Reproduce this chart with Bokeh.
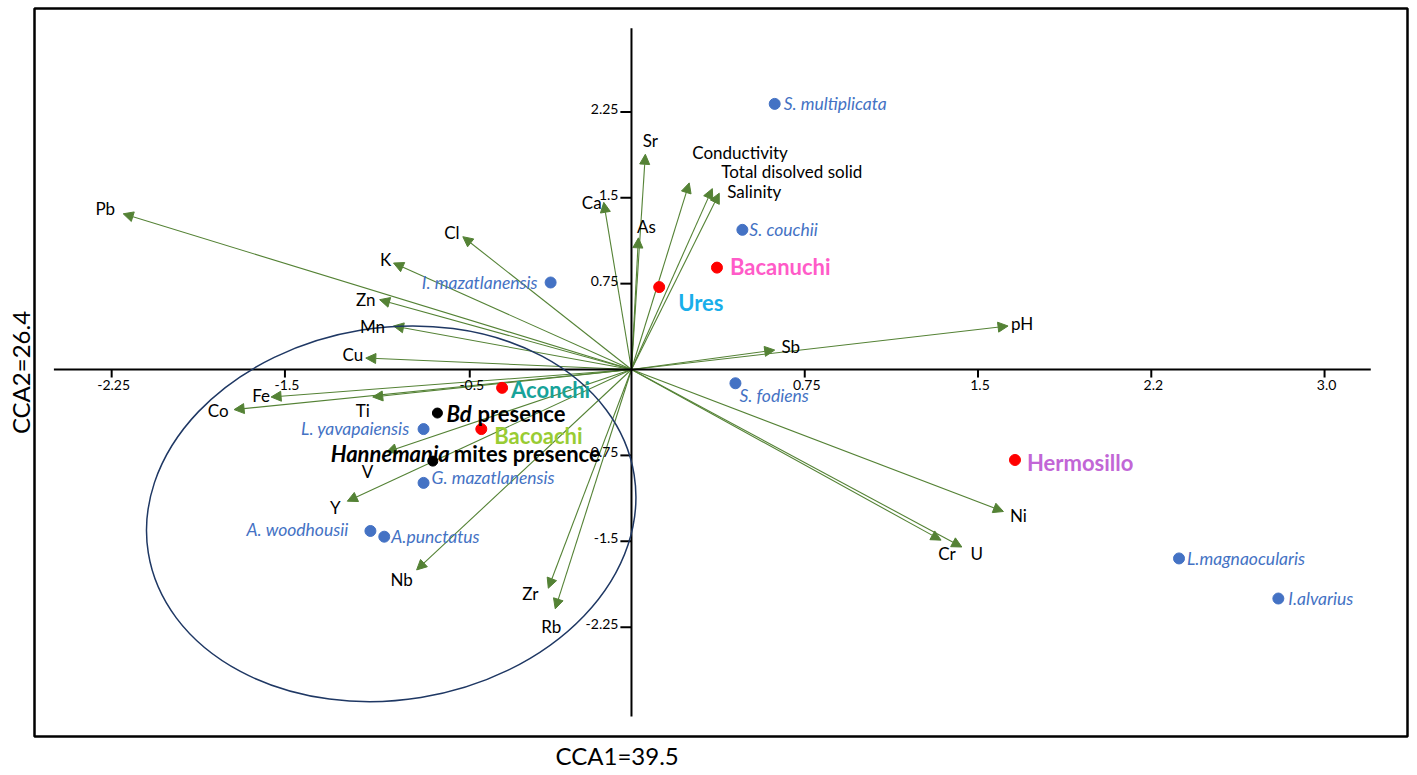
from bokeh.plotting import figure
from bokeh.models import ColumnDataSource, Arrow, NormalHead, Title, Range1d
from bokeh.embed import file_html
from bokeh.resources import INLINE
from bokeh.core.properties import value

# ---------------- data ----------------
# environmental vectors (biplot scores: CCA1, CCA2)
var_names = ["Pb", "Cl", "K", "Zn", "Mn", "Cu", "Fe", "Co", "Ti", "V", "Y", "Nb", "Zr", "Rb",
             "Ca", "As", "Sr", "Conductivity", "Total disolved solid", "Salinity", "Sb", "pH",
             "Ni", "Cr", "U"]
var_cca1 = [-2.20, -0.73, -1.03, -1.09, -1.03, -1.15, -1.56, -1.72, -1.12, -1.06, -1.23, -0.93,
            -0.36, -0.33, -0.12, 0.03, 0.06, 0.25, 0.35, 0.38, 0.62, 1.63, 1.61, 1.34, 1.43]
var_cca2 = [1.36, 1.16, 0.93, 0.61, 0.38, 0.10, -0.24, -0.35, -0.24, -0.72, -1.15, -1.75,
            -1.91, -2.09, 1.46, 1.15, 1.88, 1.63, 1.58, 1.54, 0.17, 0.38, -1.24, -1.49, -1.55]

# species scores
sp_names = ["S. multiplicata", "S. couchii", "I. mazatlanensis", "S. fodiens", "L. yavapaiensis",
            "G. mazatlanensis", "A. woodhousii", "A.punctatus", "L.magnaocularis", "I.alvarius"]
sp_cca1 = [0.62, 0.48, -0.35, 0.45, -0.90, -0.90, -1.13, -1.07, 2.37, 2.80]
sp_cca2 = [2.32, 1.22, 0.76, -0.12, -0.52, -0.99, -1.41, -1.46, -1.65, -2.00]

# sites
site_names = ["Bacanuchi", "Ures", "Aconchi", "Bacoachi", "Hermosillo"]
site_cca1 = [0.37, 0.12, -0.56, -0.65, 1.66]
site_cca2 = [0.89, 0.72, -0.16, -0.52, -0.79]

# presence variables
pres_italic = ["Bd", "Hannemania"]
pres_rest = ["presence", "mites presence"]
pres_cca1 = [-0.84, -0.86]
pres_cca2 = [-0.38, -0.80]

# ellipse (centre, width, height in axis units)
ell_cca1 = [-1.04]
ell_cca2 = [-1.26]
ell_w = [2.13]
ell_h = [3.25]

# axes and ticks
x_ticks = [-2.25, -1.5, -0.7, 0.75, 1.5, 2.25, 3.0]
x_tick_labels = ["-2.25", "-1.5", "-0.5", "0.75", "1.5", "2.2", "3.0"]
y_ticks = [2.25, 1.5, 0.75, -0.75, -1.5, -2.25]
y_tick_labels = ["2.25", "1.5", "0.75", "-0.75", "-1.5", "-2.25"]
x_axis_extent = [-2.50, 3.20]
y_axis_extent = [-3.03, 2.98]

# ---------------- styles ----------------
FONT = value("Lato")
GREEN = "#548235"
BLUE = "#4472C4"
RED = "#FF0000"
site_colors = ["#FF5BC8", "#19AEEA", "#17A39A", "#99CC33", "#C266D6"]
site_dx = [13, 19, 9, 13, 12]
site_dy = [-1, 15, 2, 6, 3]
# variable label offsets (pixels); left-aligned for the long labels
var_dx = [-18, -11, -8, -14, -21, -13, -10, -16, -10, -19, -12, -15, -18, -4, -12, 8, 5,
          3, 9, 8, 16, 14, 15, 6, 15]
var_dy = [-5, -4, -4, 0, 0, -4, -2, 1, 13, 20, 6, 10, 5, 18, 0, -11, -14,
          -30, -17, -2, -4, -3, 4, 13, 6]
var_left = ["Conductivity", "Total disolved solid", "Salinity"]
sp_right = ["I. mazatlanensis", "L. yavapaiensis", "A. woodhousii"]
sp_dx = [9, 7, -13, 4, -14, 8, -22, 7, 8, 10]
sp_dy = [0, 0, 0, 12, -1, -5, -1, 0, 0, 0]

p = figure(width=1413, height=772,
           x_range=Range1d(-2.584, 3.359), y_range=Range1d(-3.205, 3.153),
           output_backend="svg", toolbar_location=None,
           x_axis_type=None, y_axis_type=None,
           min_border_left=34, min_border_right=6, min_border_top=8, min_border_bottom=36)
p.outline_line_color = "black"
p.outline_line_width = 2.5
p.background_fill_color = "white"

# axis titles
p.add_layout(Title(text="CCA1=39.5", align="left", offset=521, text_font=FONT.value,
                   text_font_size="24px", text_font_style="normal", text_color="black",
                   standoff=5), "below")
p.add_layout(Title(text="CCA2=26.4", align="center", text_font=FONT.value,
                   text_font_size="24px", text_font_style="normal", text_color="black",
                   standoff=0), "left")

# central axis lines
p.segment(x0=[x_axis_extent[0]], y0=[0], x1=[x_axis_extent[1]], y1=[0], line_color="black", line_width=2)
p.segment(x0=[0], y0=[y_axis_extent[0]], x1=[0], y1=[y_axis_extent[1]], line_color="black", line_width=2)
# tick marks
p.segment(x0=x_ticks, y0=[0] * len(x_ticks), x1=x_ticks, y1=[-0.07] * len(x_ticks),
          line_color="black", line_width=2)
p.segment(x0=[0] * len(y_ticks), y0=y_ticks, x1=[-0.048] * len(y_ticks), y1=y_ticks,
          line_color="black", line_width=2)
p.text(x=x_ticks, y=[0] * len(x_ticks), text=x_tick_labels, x_offset=2, y_offset=15,
       text_font=FONT, text_font_size="14px", text_align="center", text_baseline="middle",
       text_color="black")
p.text(x=[0] * len(y_ticks), y=y_ticks, text=y_tick_labels, x_offset=-13, y_offset=-3,
       text_font=FONT, text_font_size="14px", text_align="right", text_baseline="middle",
       text_color="black")

# ellipse
p.ellipse(x=ell_cca1, y=ell_cca2, width=ell_w, height=ell_h, angle=0.16,
          fill_color=None, line_color="#1F3864", line_width=1.5)

# arrows
arr_src = ColumnDataSource(dict(x0=[0] * len(var_names), y0=[0] * len(var_names),
                                x1=var_cca1, y1=var_cca2))
arr = Arrow(end=NormalHead(size=10, fill_color=GREEN, line_color=GREEN, line_width=1),
            x_start="x0", y_start="y0", x_end="x1", y_end="y1", source=arr_src,
            line_color=GREEN, line_width=1.1)
arr.level = "underlay"
p.add_layout(arr)

# variable labels
def sub(idx, **cols):
    return ColumnDataSource({k: [v[i] for i in idx] for k, v in cols.items()})

ci = [i for i, n in enumerate(var_names) if n not in var_left]
li = [i for i, n in enumerate(var_names) if n in var_left]
for idx, align in ((ci, "center"), (li, "left")):
    s = sub(idx, x=var_cca1, y=var_cca2, t=var_names, dx=var_dx, dy=var_dy)
    p.text(x="x", y="y", text="t", x_offset="dx", y_offset="dy", source=s,
           text_font=FONT, text_font_size="17px", text_align=align, text_baseline="middle",
           text_color="black")

# species
p.scatter(x=sp_cca1, y=sp_cca2, size=11, fill_color=BLUE, line_color=BLUE)
ri = [i for i, n in enumerate(sp_names) if n in sp_right]
le = [i for i, n in enumerate(sp_names) if n not in sp_right]
for idx, align in ((ri, "right"), (le, "left")):
    s = sub(idx, x=sp_cca1, y=sp_cca2, t=sp_names, dx=sp_dx, dy=sp_dy)
    p.text(x="x", y="y", text="t", x_offset="dx", y_offset="dy", source=s,
           text_font=FONT, text_font_size="17.5px", text_font_style="italic",
           text_align=align, text_baseline="middle", text_color=BLUE)

# sites
p.scatter(x=site_cca1, y=site_cca2, size=11, fill_color=RED, line_color=RED)
site_src = ColumnDataSource(dict(x=site_cca1, y=site_cca2, t=site_names, c=site_colors,
                                 dx=site_dx, dy=site_dy))
p.text(x="x", y="y", text="t", x_offset="dx", y_offset="dy", text_color="c", source=site_src,
       text_font=FONT, text_font_size="22px", text_font_style="bold",
       text_align="left", text_baseline="middle")

# presence points
p.scatter(x=pres_cca1, y=pres_cca2, size=10, fill_color="black", line_color="black")
p.text(x=pres_cca1[:1], y=pres_cca2[:1], text=pres_italic[:1], x_offset=9, y_offset=0,
       text_font=FONT, text_font_size="22px", text_font_style="bold italic",
       text_align="left", text_baseline="middle", text_color="black")
p.text(x=pres_cca1[:1], y=pres_cca2[:1], text=pres_rest[:1], x_offset=40, y_offset=0,
       text_font=FONT, text_font_size="22px", text_font_style="bold",
       text_align="left", text_baseline="middle", text_color="black")
p.text(x=pres_cca1[1:], y=pres_cca2[1:], text=pres_italic[1:], x_offset=17, y_offset=-8,
       text_font=FONT, text_font_size="22px", text_font_style="bold italic",
       text_align="right", text_baseline="middle", text_color="black")
p.text(x=pres_cca1[1:], y=pres_cca2[1:], text=pres_rest[1:], x_offset=21, y_offset=-8,
       text_font=FONT, text_font_size="22px", text_font_style="bold",
       text_align="left", text_baseline="middle", text_color="black")

open("out.html", "w").write(file_html(p, INLINE))
